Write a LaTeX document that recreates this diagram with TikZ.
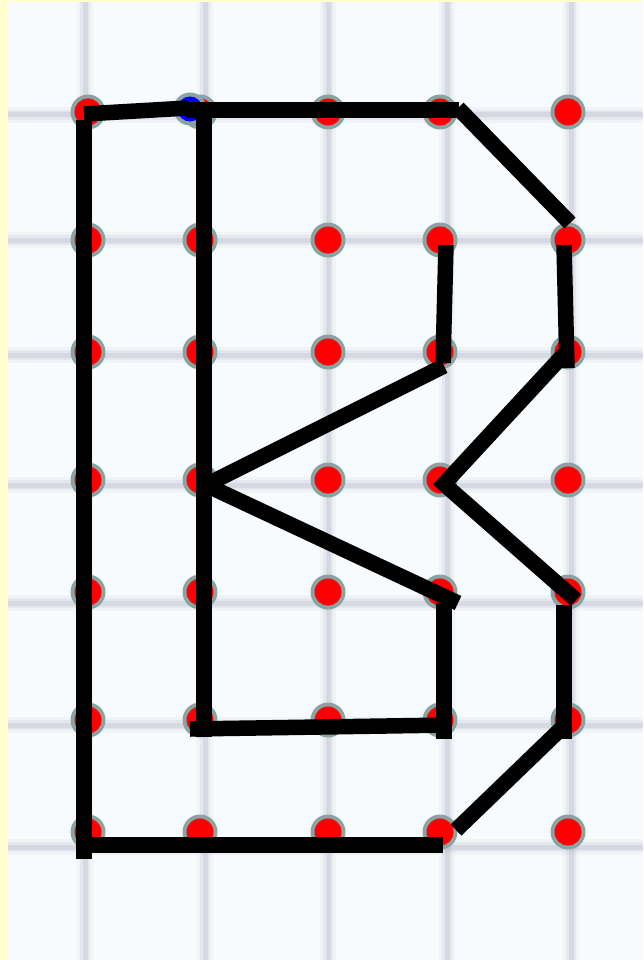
\documentclass[tikz,border=0pt]{standalone}
\usetikzlibrary{calc}
\definecolor{bgc}{HTML}{F7FBFD}
\definecolor{gridc}{HTML}{A4A6B8}
\definecolor{ringc}{HTML}{8AA3A3}
\definecolor{stripc}{HTML}{FFFFD0}
\tikzset{
  gridsoft/.style={draw=gridc, line width=16pt, opacity=0.08},
  gridmid/.style={draw=gridc, line width=10pt, opacity=0.14},
  gridcore/.style={draw=gridc, line width=5pt, opacity=0.22},
  dotring/.style={fill=ringc},
  dotred/.style={fill=red},
  dotblue/.style={fill=blue},
  stroke/.style={draw=black, line width=15.5pt, line cap=butt}
}
\begin{document}
\begin{tikzpicture}[x=1pt,y=-1pt]
\useasboundingbox (0,0) rectangle (643,960);
\fill[bgc] (0,0) rectangle (643,960);
% blurred grid
\foreach \gx in {85,205,328,447,571}{
  \draw[gridsoft] (\gx,0) -- (\gx,960);
  \draw[gridmid] (\gx,0) -- (\gx,960);
  \draw[gridcore] (\gx,0) -- (\gx,960);
}
\foreach \gy in {115,240,355,485,603,725,847}{
  \draw[gridsoft] (0,\gy) -- (643,\gy);
  \draw[gridmid] (0,\gy) -- (643,\gy);
  \draw[gridcore] (0,\gy) -- (643,\gy);
}
% yellow edge strips
\fill[stripc] (0,0) rectangle (8,960);
\fill[stripc] (0,0) rectangle (643,2);
% dots
\foreach \dx in {88,200,328,440,568}{
  \foreach \dy in {112,240,352,480,592,720,832}{
    \coordinate (d-\dx-\dy) at (\dx,\dy);
    \fill[dotring] (d-\dx-\dy) circle (17.5);
    \fill[dotred] (d-\dx-\dy) circle (13.5);
  }
}
\coordinate (bd) at (190,109);
\fill[dotring] (bd) circle (16.5);
\fill[dotblue] (bd) circle (12.5);
% path coordinates
\coordinate (a1) at (84,114);
\coordinate (a2) at (188,108);
\coordinate (b1) at (186,110);
\coordinate (b2) at (459,110);
\coordinate (l1) at (84,120);
\coordinate (l2) at (84,859);
\coordinate (i1) at (204,103);
\coordinate (i2) at (204,737);
\coordinate (h1) at (190,729);
\coordinate (h2) at (451,725);
\coordinate (r1) at (444,603);
\coordinate (r2) at (444,739);
\coordinate (v1) at (206,485);
\coordinate (k1) at (444,366);
\coordinate (k2) at (458,603);
\coordinate (u1) at (446,245);
\coordinate (u2) at (443,363);
\coordinate (t1) at (458,108);
\coordinate (t2) at (570,223);
\coordinate (o1) at (564,245);
\coordinate (o2) at (567,368);
\coordinate (p1) at (568,350);
\coordinate (pv) at (444,484);
\coordinate (p2) at (576,600);
\coordinate (q1) at (564,605);
\coordinate (q2) at (564,739);
\coordinate (s1) at (566,724);
\coordinate (s2) at (456,830);
\coordinate (f1) at (84,845);
\coordinate (f2) at (443,845);
% strokes
\draw[stroke] (a1) -- (a2);
\draw[stroke] (b1) -- (b2);
\draw[stroke] (l1) -- (l2);
\draw[stroke] (i1) -- (i2);
\draw[stroke] (h1) -- (h2);
\draw[stroke] (r1) -- (r2);
\draw[stroke] (k1) -- (v1);
\draw[stroke] (v1) -- (k2);
\draw[stroke] (u1) -- (u2);
\draw[stroke] (t1) -- (t2);
\draw[stroke] (o1) -- (o2);
\draw[stroke, line join=miter] (p1) -- (pv) -- (p2);
\draw[stroke] (q1) -- (q2);
\draw[stroke] (s1) -- (s2);
\draw[stroke] (f1) -- (f2);
\end{tikzpicture}
\end{document}
